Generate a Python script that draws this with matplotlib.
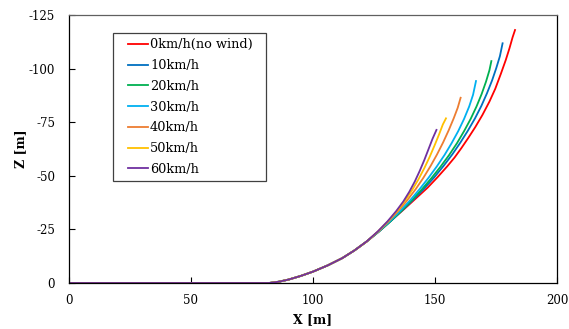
import matplotlib
matplotlib.use("Agg")
import matplotlib.pyplot as plt
from matplotlib.patches import Rectangle

labels = ["0km/h(no wind)", "10km/h", "20km/h", "30km/h", "40km/h", "50km/h", "60km/h"]
colors = ["#FF0000", "#0070C0", "#00B050", "#00B0F0", "#ED7D31", "#FFC000", "#7030A0"]

# shared run-out / early part (x, z)
base_x = [0, 82, 86, 90, 95, 100, 106, 112, 117]
base_z = [0, 0, -0.6, -1.6, -3.3, -5.3, -8.2, -11.6, -15.2]

red_x = base_x + [122, 127, 132, 137.3, 142.6, 147, 151, 155, 158, 160.8, 163.6, 166.5, 169.4, 172.3, 174.7, 177, 179, 180.5, 181.8, 182.8]
red_z = base_z + [-19.3, -24, -29.1, -34.4, -39.9, -44.5, -49.3, -54.4, -58.5, -62.9, -67.6, -72.7, -78.3, -84.6, -90.6, -97.6, -104, -109.4, -114.6, -118]

blue_x = base_x + [122, 127, 131.9, 136.6, 141.2, 145.6, 149.7, 153.5, 157.1, 160.4, 163.5, 166.4, 169.0, 171.3, 173.4, 175.1, 176.6, 177.7]
blue_z = base_z + [-19.35, -24, -28.9, -33.9, -39.0, -44.1, -49.3, -54.6, -60.0, -65.5, -71.1, -76.8, -82.6, -88.5, -94.5, -100.2, -105.8, -111.8]

green_x = base_x + [122, 127, 131.8, 136.3, 140.6, 144.7, 148.6, 152.3, 155.8, 159.0, 161.9, 164.6, 167.0, 169.1, 170.9, 172.3, 173.1]
green_z = base_z + [-19.35, -24, -28.8, -33.7, -38.7, -43.8, -49.0, -54.3, -59.7, -65.2, -70.8, -76.5, -82.3, -88.1, -93.9, -99.2, -103.5]

cyan_x = base_x + [122, 126.9, 131.5, 135.8, 139.9, 143.7, 147.3, 150.7, 153.9, 156.8, 159.5, 161.9, 164.0, 165.6, 166.8]
cyan_z = base_z + [-19.35, -24, -28.8, -33.7, -38.7, -43.8, -49.0, -54.3, -59.7, -65.2, -70.8, -76.5, -82.3, -87.8, -94.2]

orange_x = base_x + [122, 126.7, 131, 135, 138.7, 142.1, 145.2, 148.1, 150.8, 153.3, 155.6, 157.7, 159.3, 160.5]
orange_z = base_z + [-19.35, -24, -28.8, -33.7, -38.7, -43.8, -49.0, -54.4, -59.9, -65.5, -71.2, -76.9, -81.7, -86.4]

yellow_x = base_x + [122, 126.6, 130.7, 134.4, 137.7, 140.6, 143.2, 145.6, 147.8, 149.8, 151.7, 153.2, 154.5]
yellow_z = base_z + [-19.35, -24, -28.7, -33.5, -38.4, -43.3, -48.3, -53.5, -58.8, -64.1, -69.4, -73.9, -76.8]

purple_x = base_x + [122, 126.5, 130.5, 134, 137, 139.5, 141.7, 143.7, 145.6, 147.3, 149, 150.6]
purple_z = base_z + [-19.4, -24, -28.7, -33.4, -38, -42.6, -47.3, -52.2, -57.3, -62.3, -67.3, -71.4]

series_x = [red_x, blue_x, green_x, cyan_x, orange_x, yellow_x, purple_x]
series_z = [red_z, blue_z, green_z, cyan_z, orange_z, yellow_z, purple_z]

xticks = [0, 50, 100, 150, 200]
yticks = [0, -25, -50, -75, -100, -125]

plt.rcParams["font.family"] = ["DejaVu Serif"]
plt.rcParams["axes.unicode_minus"] = False
fig = plt.figure(figsize=(5.69, 3.29), dpi=100)
ax = fig.add_axes([69 / 569, 1 - 283 / 329, (557 - 69) / 569, (283 - 15) / 329])

for xs, zs, c, lab in zip(series_x, series_z, colors, labels):
    ax.plot(xs, zs, color=c, lw=1.3, label=lab, solid_joinstyle="round")

ax.set_xlim(0, 200)
ax.set_ylim(0, -125)
ax.set_xticks(xticks)
ax.set_yticks(yticks)
ax.tick_params(direction="in", length=4, labelsize=8.5, pad=8)
ax.tick_params(axis="y", pad=10)
for s in ax.spines.values():
    s.set_linewidth(0.9)
    s.set_color("black")
ax.spines["top"].set_color("#606060")

ax.set_xlabel("X [m]", fontsize=9, fontweight="bold", labelpad=4)
ax.set_ylabel("Z [m]", fontsize=9, fontweight="bold", labelpad=1)

# legend frame (Excel style box) and entries
ax.add_patch(Rectangle((0.0902, 0.3806), 0.3135, 0.552, transform=ax.transAxes,
                       facecolor="white", edgecolor="#404040", lw=0.9, zorder=4))
leg = ax.legend(loc="upper left", bbox_to_anchor=(0.1209, 0.913), fontsize=9.3,
                frameon=False, handlelength=1.55, handletextpad=0.15,
                labelspacing=0.6, borderpad=0, borderaxespad=0)
leg.set_zorder(5)

fig.savefig("out.png", dpi=100)
